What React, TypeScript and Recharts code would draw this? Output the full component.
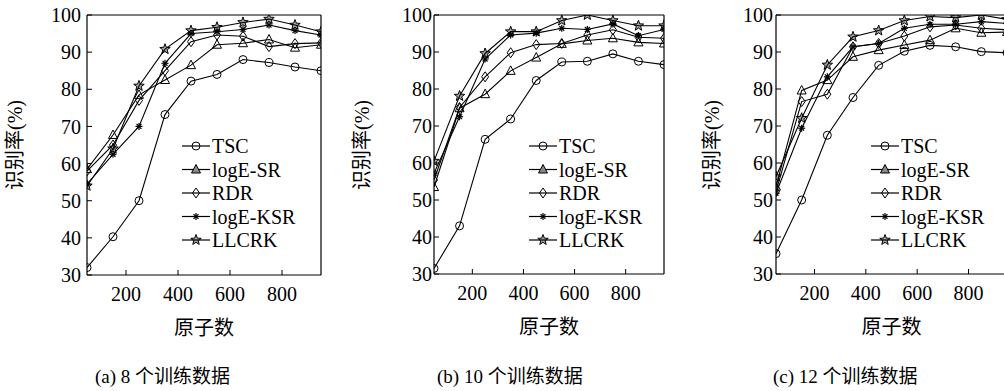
import { LineChart, Line, XAxis, YAxis, Legend } from "recharts";

const atoms = [50, 150, 250, 350, 450, 550, 650, 750, 850, 950];
const xTicks = [200, 400, 600, 800];
const yTicks = [30, 40, 50, 60, 70, 80, 90, 100];
const seriesNames = ["TSC", "logE-SR", "RDR", "logE-KSR", "LLCRK"];
const captions = ["(a) 8 个训练数据", "(b) 10 个训练数据", "(c) 12 个训练数据"];

// (a) 8 training samples
const tsc8 = [32, 40.3, 50, 73.2, 82.2, 84, 88, 87.2, 86, 85];
const sr8 = [58.5, 67.7, 78.5, 82.5, 86.5, 92, 92.4, 93.4, 91.2, 92];
const rdr8 = [58, 65, 77, 85, 92.8, 94.6, 94.3, 91.5, 92.3, 92.5];
const ksr8 = [54.5, 62.5, 70, 87, 95, 95.5, 96.1, 97.3, 95.8, 94.6];
const llcrk8 = [54, 64, 80.9, 90.8, 95.8, 96.7, 98, 98.9, 97.3, 95.5];

// (b) 10 training samples
const tsc10 = [31.5, 43, 66.4, 71.9, 82.3, 87.3, 87.5, 89.5, 87.5, 86.6];
const sr10 = [53.5, 74.8, 78.6, 84.9, 88.5, 92.2, 93.1, 93.7, 92.6, 92.3];
const rdr10 = [55.4, 75, 83.3, 89.8, 92, 92.3, 94.6, 96, 94, 93.7];
const ksr10 = [57.2, 72.5, 88.1, 94.6, 95.1, 96.4, 96.1, 97.6, 94.4, 96.1];
const llcrk10 = [60.5, 78.1, 89.6, 95.5, 95.5, 98.5, 100, 98.5, 97.1, 97.1];

// (c) 12 training samples
const tsc12 = [35.5, 50, 67.5, 77.7, 86.4, 90.2, 91.8, 91.4, 90.1, 89.8];
const sr12 = [53.6, 79.6, 82.4, 88.7, 90.5, 91.9, 93.2, 96.4, 95.2, 95.4];
const rdr12 = [52.3, 76.6, 78.6, 91.4, 92.3, 94.3, 96.8, 97.3, 96.4, 96];
const ksr12 = [51.8, 69.4, 83.3, 91.4, 92.3, 96.4, 97.5, 97.5, 98.2, 97.7];
const llcrk12 = [56.3, 72.1, 86.5, 94.1, 95.8, 98.5, 99.6, 99.3, 100, 98.8];

const FONT = "'Liberation Serif', 'Times New Roman', 'Noto Sans CJK SC', serif";

function buildRows(series: number[][]) {
  return atoms.map((x, i) => {
    const row: Record<string, number> = { x };
    seriesNames.forEach((name, k) => {
      row[name] = series[k][i];
    });
    return row;
  });
}

function Marker({ kind, cx, cy, legend }: { kind: string; cx: number; cy: number; legend?: boolean }) {
  const s = { stroke: "#000", strokeWidth: 1, fill: "none" };
  if (kind === "TSC") return <circle cx={cx} cy={cy} r={4} {...s} />;
  if (kind === "logE-SR")
    return (
      <polygon
        points={`${cx},${cy - 5} ${cx + 4.5},${cy + 3.5} ${cx - 4.5},${cy + 3.5}`}
        {...s}
        fill={legend ? "#888" : "none"}
      />
    );
  if (kind === "RDR")
    return <polygon points={`${cx},${cy - 5} ${cx + 3.5},${cy} ${cx},${cy + 5} ${cx - 3.5},${cy}`} {...s} />;
  if (kind === "logE-KSR") {
    const r = 3.5;
    const d = r * 0.7;
    return (
      <g stroke="#000" strokeWidth={1.2}>
        <line x1={cx - r} y1={cy} x2={cx + r} y2={cy} />
        <line x1={cx} y1={cy - r} x2={cx} y2={cy + r} />
        <line x1={cx - d} y1={cy - d} x2={cx + d} y2={cy + d} />
        <line x1={cx - d} y1={cy + d} x2={cx + d} y2={cy - d} />
      </g>
    );
  }
  const pts: string[] = [];
  for (let i = 0; i < 10; i++) {
    const r = i % 2 === 0 ? 5.5 : 2.3;
    const a = -Math.PI / 2 + (i * Math.PI) / 5;
    pts.push(`${cx + r * Math.cos(a)},${cy + r * Math.sin(a)}`);
  }
  return <polygon points={pts.join(" ")} stroke="#000" strokeWidth={1} fill="#000" fillOpacity={0.35} />;
}

function LegendBox() {
  return (
    <svg width={140} height={120} style={{ display: "block" }}>
      {seriesNames.map((name, i) => {
        const y = 12 + i * 23.5;
        return (
          <g key={name}>
            <line x1={0} y1={y} x2={28} y2={y} stroke="#000" strokeWidth={1.2} />
            <Marker kind={name} cx={14} cy={y} legend />
            <text x={30} y={y} dominantBaseline="central" fontFamily={FONT} fontSize={20} fill="#000">
              {name}
            </text>
          </g>
        );
      })}
    </svg>
  );
}

type PanelProps = {
  series: number[][];
  plotLeft: number;
  plotWidth: number;
  plotBottom: number;
  tickGap: number;
  yLabelX: number;
  caption: string;
  captionX: number;
};

function Panel({ series, plotLeft, plotWidth, plotBottom, tickGap, yLabelX, caption, captionX }: PanelProps) {
  const data = buildRows(series);
  const chartLeft = plotLeft - 87;
  const width = 87 + plotWidth + 10;
  const height = 391;
  const tickStyle = { fill: "#000", fontSize: 20, fontFamily: FONT };
  const centerX = 87 + plotWidth / 2;

  return (
    <div style={{ position: "absolute", left: chartLeft, top: 0 }}>
      <LineChart
        width={width}
        height={height}
        data={data}
        margin={{ top: 14, right: 9, left: 27, bottom: height - plotBottom - 30 }}
      >
        <XAxis
          dataKey="x"
          type="number"
          domain={[50, 950]}
          ticks={xTicks}
          allowDataOverflow
          height={30}
          tickSize={-5}
          tickMargin={16.5}
          axisLine={{ stroke: "#000", strokeWidth: 1.2 }}
          tickLine={{ stroke: "#000" }}
          tick={tickStyle}
          label={() => (
            <g>
              <text x={centerX} y={plotBottom + 53} textAnchor="middle" dominantBaseline="central" fontFamily={FONT} fontSize={20} fill="#000">
                原子数
              </text>
              <text x={captionX} y={376} dominantBaseline="central" fontFamily={FONT} fontSize={19} fill="#000">
                {caption}
              </text>
            </g>
          )}
        />
        <XAxis
          xAxisId="t"
          orientation="top"
          dataKey="x"
          type="number"
          domain={[50, 950]}
          ticks={xTicks}
          allowDataOverflow
          height={1}
          tickSize={-5}
          axisLine={{ stroke: "#000", strokeWidth: 1.2 }}
          tickLine={{ stroke: "#000" }}
          tick={false}
        />
        <YAxis
          type="number"
          domain={[30, 100]}
          ticks={yTicks}
          allowDataOverflow
          width={60}
          tickSize={-5}
          tickMargin={5 + tickGap}
          axisLine={{ stroke: "#000", strokeWidth: 1.2 }}
          tickLine={{ stroke: "#000" }}
          tick={tickStyle}
          label={() => (
            <text
              x={yLabelX}
              y={145}
              transform={`rotate(-90 ${yLabelX} 145)`}
              textAnchor="middle"
              dominantBaseline="central"
              fontFamily={FONT}
              fontSize={20}
              fill="#000"
            >
              识别率(%)
            </text>
          )}
        />
        <YAxis
          yAxisId="r"
          orientation="right"
          type="number"
          domain={[30, 100]}
          ticks={yTicks}
          allowDataOverflow
          width={1}
          tickSize={-5}
          axisLine={{ stroke: "#000", strokeWidth: 1.2 }}
          tickLine={{ stroke: "#000" }}
          tick={false}
        />
        <Legend
          layout="vertical"
          align="center"
          verticalAlign="middle"
          wrapperStyle={{ left: 87 + 95, top: 134, width: 140 }}
          content={() => <LegendBox />}
        />
        {seriesNames.map((name) => (
          <Line
            key={name}
            dataKey={name}
            name={name}
            stroke="#000"
            strokeWidth={1.1}
            isAnimationActive={false}
            dot={(p: any) => (
              <g key={`${name}-${p.index}`}>
                <Marker kind={name} cx={p.cx} cy={p.cy} />
              </g>
            )}
            activeDot={false}
          />
        ))}
      </LineChart>
    </div>
  );
}

export default function App() {
  return (
    <div
      style={{
        position: "absolute",
        left: 0,
        top: 0,
        width: 1004,
        height: 391,
        overflow: "hidden",
        background: "#fff",
      }}
    >
      <Panel
        series={[tsc8, sr8, rdr8, ksr8, llcrk8]}
        plotLeft={87}
        plotWidth={234}
        plotBottom={275}
        tickGap={6}
        yLabelX={15}
        caption={captions[0]}
        captionX={95}
      />
      <Panel
        series={[tsc10, sr10, rdr10, ksr10, llcrk10]}
        plotLeft={434}
        plotWidth={230}
        plotBottom={274}
        tickGap={2}
        yLabelX={15}
        caption={captions[1]}
        captionX={90}
      />
      <Panel
        series={[tsc12, sr12, rdr12, ksr12, llcrk12]}
        plotLeft={776}
        plotWidth={231}
        plotBottom={274}
        tickGap={3}
        yLabelX={23}
        caption={captions[2]}
        captionX={84}
      />
    </div>
  );
}
